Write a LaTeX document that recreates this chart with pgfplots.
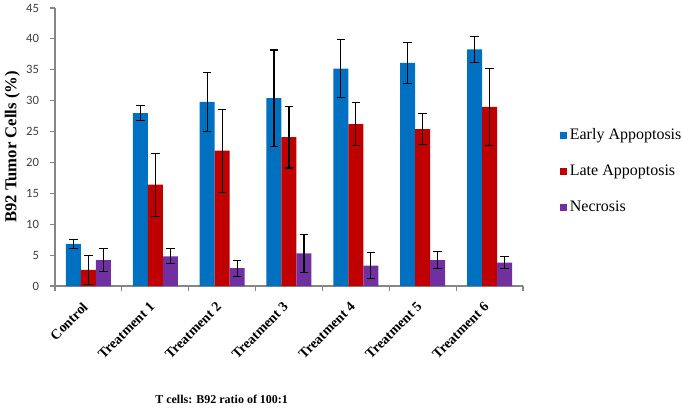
\documentclass[border=0pt]{standalone}
\usepackage{fontspec}
\setmainfont{Liberation Serif}
\newfontfamily\carlito{Carlito}
\newfontfamily\tnr{Liberation Serif}
\usepackage{pgfplots}
\pgfplotsset{compat=1.18}
\usepackage{pgfplotstable}
\definecolor{cEarly}{RGB}{0,112,192}
\definecolor{cLate}{RGB}{192,0,0}
\definecolor{cNec}{RGB}{112,48,160}
\definecolor{axgray}{RGB}{134,134,134}

% x  early  eerr  late  lerr  nec  nerr
\pgfplotstableread{
x e   ee  l    le  n   ne
0 6.8 0.8 2.6  2.4 4.2 1.9
1 28.0 1.2 16.4 5.1 4.8 1.2
2 29.8 4.8 21.9 6.7 2.9 1.3
3 30.4 7.8 24.1 5.0 5.3 3.1
4 35.2 4.7 26.2 3.5 3.3 2.1
5 36.1 3.3 25.4 2.5 4.2 1.4
6 38.3 2.1 29.0 6.2 3.8 1.0
}\data

\begin{document}
\begin{tikzpicture}[x=1pt,y=1pt]
\path[use as bounding box] (-41.25,-93.75) rectangle (471,214.5);
\begin{axis}[
    at={(0,0)}, anchor=south west,
    scale only axis,
    width=351pt, height=208.5pt,
    ybar=0pt, bar width=11.25pt,
    xmin=-0.5, xmax=6.5,
    ymin=0, ymax=45,
    ytick={0,5,...,45},
    xtick={0,...,6},
    xticklabels={Control,Treatment 1,Treatment 2,Treatment 3,Treatment 4,Treatment 5,Treatment 6},
    minor xtick={-0.5,0.5,...,6.5},
    major x tick style={draw=none},
    minor x tick style={axgray, line width=0.8pt},
    minor tick length=4pt,
    y tick style={axgray, line width=0.8pt},
    major tick length=3.5pt,
    tick align=outside,
    axis x line*=bottom, axis y line*=left,
    axis line style={axgray, line width=0.8pt, -},
    xticklabel style={font=\tnr\bfseries\fontsize{10.5}{12}\selectfont, rotate=45, anchor=north east, inner sep=1pt, xshift=-8pt, yshift=-1pt},
    yticklabel style={font=\carlito\fontsize{9.5}{11}\selectfont, text=black!75, xshift=-5pt},
    /pgf/number format/assume math mode=true,
    ylabel={\bfseries B92 Tumor Cells (\%)},
    ylabel style={font=\tnr\fontsize{12.5}{14}\selectfont, at={(axis description cs:-0.0912,0.5)}, anchor=center},
    legend style={at={(rel axis cs:1,0.413)}, anchor=west, xshift=27.75pt, draw=none, fill=none,
        font=\tnr\fontsize{12}{13}\selectfont, row sep=13.5pt, inner sep=0pt,
        /tikz/every even column/.append style={column sep=1pt}},
    legend cell align=left,
    legend image code/.code={\draw[#1, draw=none] (0pt,-2.6pt) rectangle (5.2pt,2.6pt);},
    error bars/y dir=both, error bars/y explicit,
    error bars/error bar style={black, line width=0.8pt},
    error bars/error mark options={rotate=90, mark size=3.2pt, line width=0.8pt, black},
]
\addplot[fill=cEarly, draw=none] table[x=x, y=e, y error=ee] {\data};
\addlegendentry{Early Appoptosis}
\addplot[fill=cLate, draw=none] table[x=x, y=l, y error=le] {\data};
\addlegendentry{Late Appoptosis}
\addplot[fill=cNec, draw=none] table[x=x, y=n, y error=ne] {\data};
\addlegendentry{Necrosis}
\end{axis}
\node[font=\tnr\bfseries\small] at (125,-85) {T cells: B92 ratio of 100:1};
\end{tikzpicture}
\end{document}
